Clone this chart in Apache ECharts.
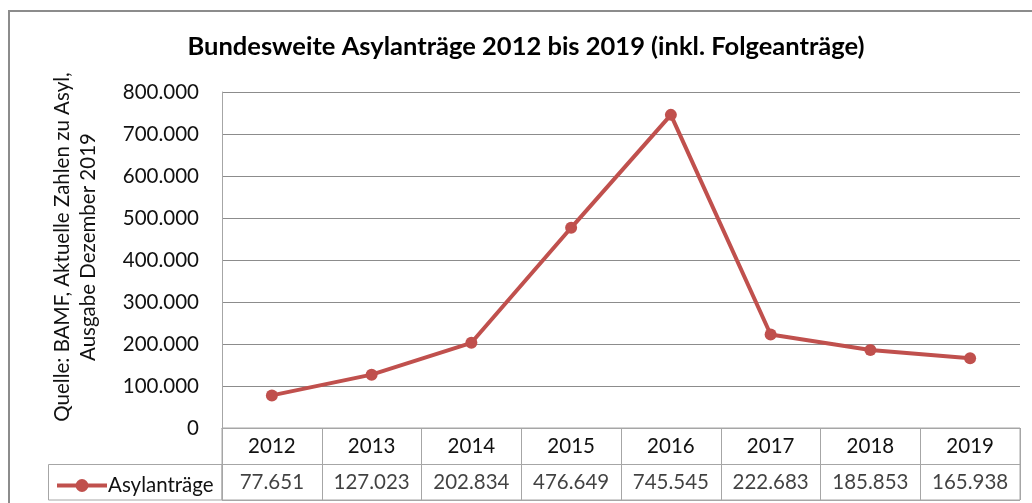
<!DOCTYPE html>
<html><head><meta charset="utf-8">
<script src="https://cdn.jsdelivr.net/npm/echarts@6/dist/echarts.min.js"></script>
<style>html,body{margin:0;padding:0;background:#fff}#c{width:1032px;height:503px}</style>
</head><body><div id="c"></div>
<script>
const titleText = 'Bundesweite Asylanträge 2012 bis 2019 (inkl. Folgeanträge)';
const yAxisTitle = 'Quelle: BAMF, Aktuelle Zahlen zu Asyl,\nAusgabe Dezember 2019';
const seriesName = 'Asylanträge';
const years = ['2012','2013','2014','2015','2016','2017','2018','2019'];
const values = [77651, 127023, 202834, 476649, 745545, 222683, 185853, 165938];

const FONT = 'Lato';
const FS = 20.5;
const fmt = v => String(Math.round(v)).replace(/\B(?=(\d{3})+(?!\d))/g, '.');
const tableRows = ['val'];

const chart = echarts.init(document.getElementById('c'), null, {renderer: 'canvas'});
chart.setOption({
  animation: false,
  backgroundColor: '#fff',
  textStyle: {fontFamily: FONT},
  title: {
    text: titleText, left: 526, top: 34, padding: 0, textAlign: 'center',
    textStyle: {fontFamily: FONT, fontWeight: 'bold', fontSize: 25.5, color: '#000'}
  },
  legend: {
    left: 50, top: 470, itemWidth: 50, itemHeight: 16, itemGap: 0,
    data: [seriesName],
    lineStyle: {width: 4},
    textStyle: {fontFamily: FONT, fontSize: 20.5, color: '#111', padding: [0,0,0,-4]}
  },
  grid: [
    {left: 222, right: 12, top: 92, height: 336},
    {left: 222, right: 12, top: 428, height: 72, show: true, borderColor: '#a6a6a6', borderWidth: 1, backgroundColor: 'transparent'}
  ],
  xAxis: [
    {type: 'category', gridIndex: 0, data: years, boundaryGap: true,
     axisLine: {show: true, lineStyle: {color: '#a6a6a6'}}, axisTick: {show: false},
     axisLabel: {margin: 8, fontFamily: FONT, fontSize: FS, color: '#111'}},
    {type: 'category', gridIndex: 1, data: years, boundaryGap: true,
     axisLine: {show: false}, axisTick: {show: false}, axisLabel: {show: false},
     splitLine: {show: true, lineStyle: {color: '#a6a6a6', width: 1}}}
  ],
  yAxis: [
    {type: 'value', gridIndex: 0, min: 0, max: 800000, interval: 100000,
     axisLine: {show: true, lineStyle: {color: '#a6a6a6'}}, axisTick: {show: false},
     splitLine: {lineStyle: {color: '#8c8c8c', width: 1}},
     axisLabel: {margin: 23, fontFamily: FONT, fontSize: FS, color: '#111', formatter: fmt}},
    {type: 'category', gridIndex: 1, data: ['val', 'year'], inverse: false,
     axisLine: {show: false}, axisTick: {show: false}, axisLabel: {show: false},
     splitLine: {show: true, lineStyle: {color: '#a6a6a6', width: 1}}}
  ],
  graphic: [
    {type: 'rect', shape: {x: 9, y: 11, width: 1100, height: 600}, style: {fill: 'none', stroke: '#8c8c8c', lineWidth: 2}, silent: true, z: -1},
    {type: 'rect', shape: {x: 48.5, y: 464.5, width: 173.5, height: 35.5}, style: {fill: 'none', stroke: '#a6a6a6', lineWidth: 1}, silent: true},
    {type: 'text', x: 75, y: 247, rotation: Math.PI / 2,
     style: {text: yAxisTitle, font: FS + 'px ' + FONT, fill: '#111', align: 'center', verticalAlign: 'middle', lineHeight: 26}}
  ],
  series: [
    {name: seriesName, type: 'line', xAxisIndex: 0, yAxisIndex: 0, data: values,
     symbol: 'circle', symbolSize: 12, lineStyle: {color: '#C0504D', width: 4},
     itemStyle: {color: '#C0504D'}},
    {type: 'scatter', xAxisIndex: 1, yAxisIndex: 1, symbolSize: 1, silent: true,
     itemStyle: {color: 'rgba(0,0,0,0)'},
     data: values.map((v, i) => [years[i], tableRows[0], v]),
     label: {show: true, position: 'inside', fontFamily: FONT, fontSize: FS, color: '#111',
             formatter: p => fmt(p.value[2])}}
  ]
});
</script></body></html>
